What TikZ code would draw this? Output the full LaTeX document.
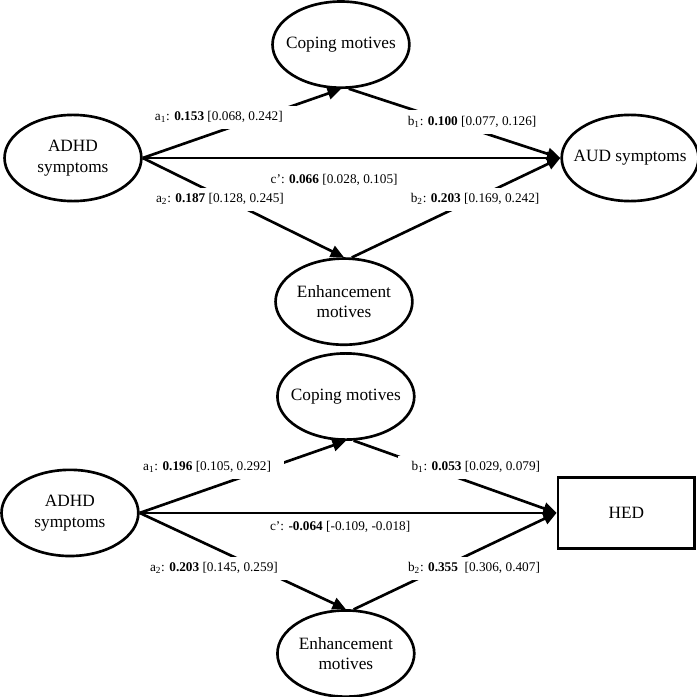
\documentclass[tikz,border=0pt]{standalone}
\usepackage{fontspec}
\setmainfont{Liberation Serif}
\usetikzlibrary{arrows.meta, positioning, shapes.geometric}

\begin{document}
\begin{tikzpicture}[
    >={Triangle[length=10pt, width=9pt]},
    line width=2pt,
    latent/.style={
        draw, ellipse, minimum width=3.62cm, minimum height=2.28cm,
        inner xsep=-6mm, inner ysep=0pt, align=center,
        font=\fontsize{13}{15.5}\selectfont
    },
    observed/.style={
        draw, rectangle, minimum width=3.62cm, minimum height=1.88cm,
        font=\fontsize{13}{15.5}\selectfont
    },
    coef/.style={
        fill=white, inner xsep=10pt, inner ysep=4.5pt, font=\normalsize
    }
]

\useasboundingbox (0,0) rectangle (18.44,-18.44);

\node [latent] (adhd1) at (1.93,-4.18) {ADHD\\symptoms};

\node [latent, right=11.05cm of adhd1] (aud) {AUD symptoms};

\node [latent] (cope1) at (9.02,-1.18) {Coping motives};

\node [latent, below=4.45cm of cope1, xshift=0.08cm] (enh1) {Enhancement\\motives};

\node [latent] (adhd2) at (1.85,-13.57) {ADHD\\symptoms};

\node [observed, right=11.03cm of adhd2] (hed) {HED};

\node [latent] (cope2) at (9.15,-10.49) {Coping motives};

\node [latent, below=4.45cm of cope2] (enh2) {Enhancement\\motives};

\draw[->] (adhd1.east) -- (cope1.south);
\draw[->] (cope1.-80) -- (aud.west);

\draw[->] (adhd1.east) -- (aud.west);

\draw[->] (adhd1.east) -- (enh1.north);
\draw[->] (enh1.80) -- (aud.west);

\draw[->] (adhd2.east) -- (cope2.south);
\draw[->] (cope2.-80) -- (hed.west);

\draw[->] (adhd2.east) -- (hed.west);

\draw[->] (adhd2.east) -- (enh2.north);
\draw[->] (enh2.80) -- (hed.west);

\node [coef] (la1) at (5.79,-3.10) {a\textsubscript{1}: \textbf{0.153} [0.068, 0.242]};
\node [coef] (lb1) at (12.49,-3.23) {b\textsubscript{1}: \textbf{0.100} [0.077, 0.126]};
\node [coef] (lc1) at (8.84,-4.76) {c’: \textbf{0.066} [0.028, 0.105]};
\node [coef] (la2) at (5.82,-5.27) {a\textsubscript{2}: \textbf{0.187} [0.128, 0.245]};
\node [coef] (lb2) at (12.57,-5.27) {b\textsubscript{2}: \textbf{0.203} [0.169, 0.242]};

\node [coef] (la3) at (5.48,-12.36) {a\textsubscript{1}: \textbf{0.196} [0.105, 0.292]};
\node [coef] (lb3) at (12.59,-12.36) {b\textsubscript{1}: \textbf{0.053} [0.029, 0.079]};
\node [coef] (lc2) at (9.00,-13.94) {c’: \textbf{-0.064} [-0.109, -0.018]};
\node [coef] (la4) at (5.66,-15.03) {a\textsubscript{2}: \textbf{0.203} [0.145, 0.259]};
\node [coef] (lb4) at (12.54,-15.03) {b\textsubscript{2}: \textbf{0.355}\ \ [0.306, 0.407]};

\end{tikzpicture}
\end{document}
